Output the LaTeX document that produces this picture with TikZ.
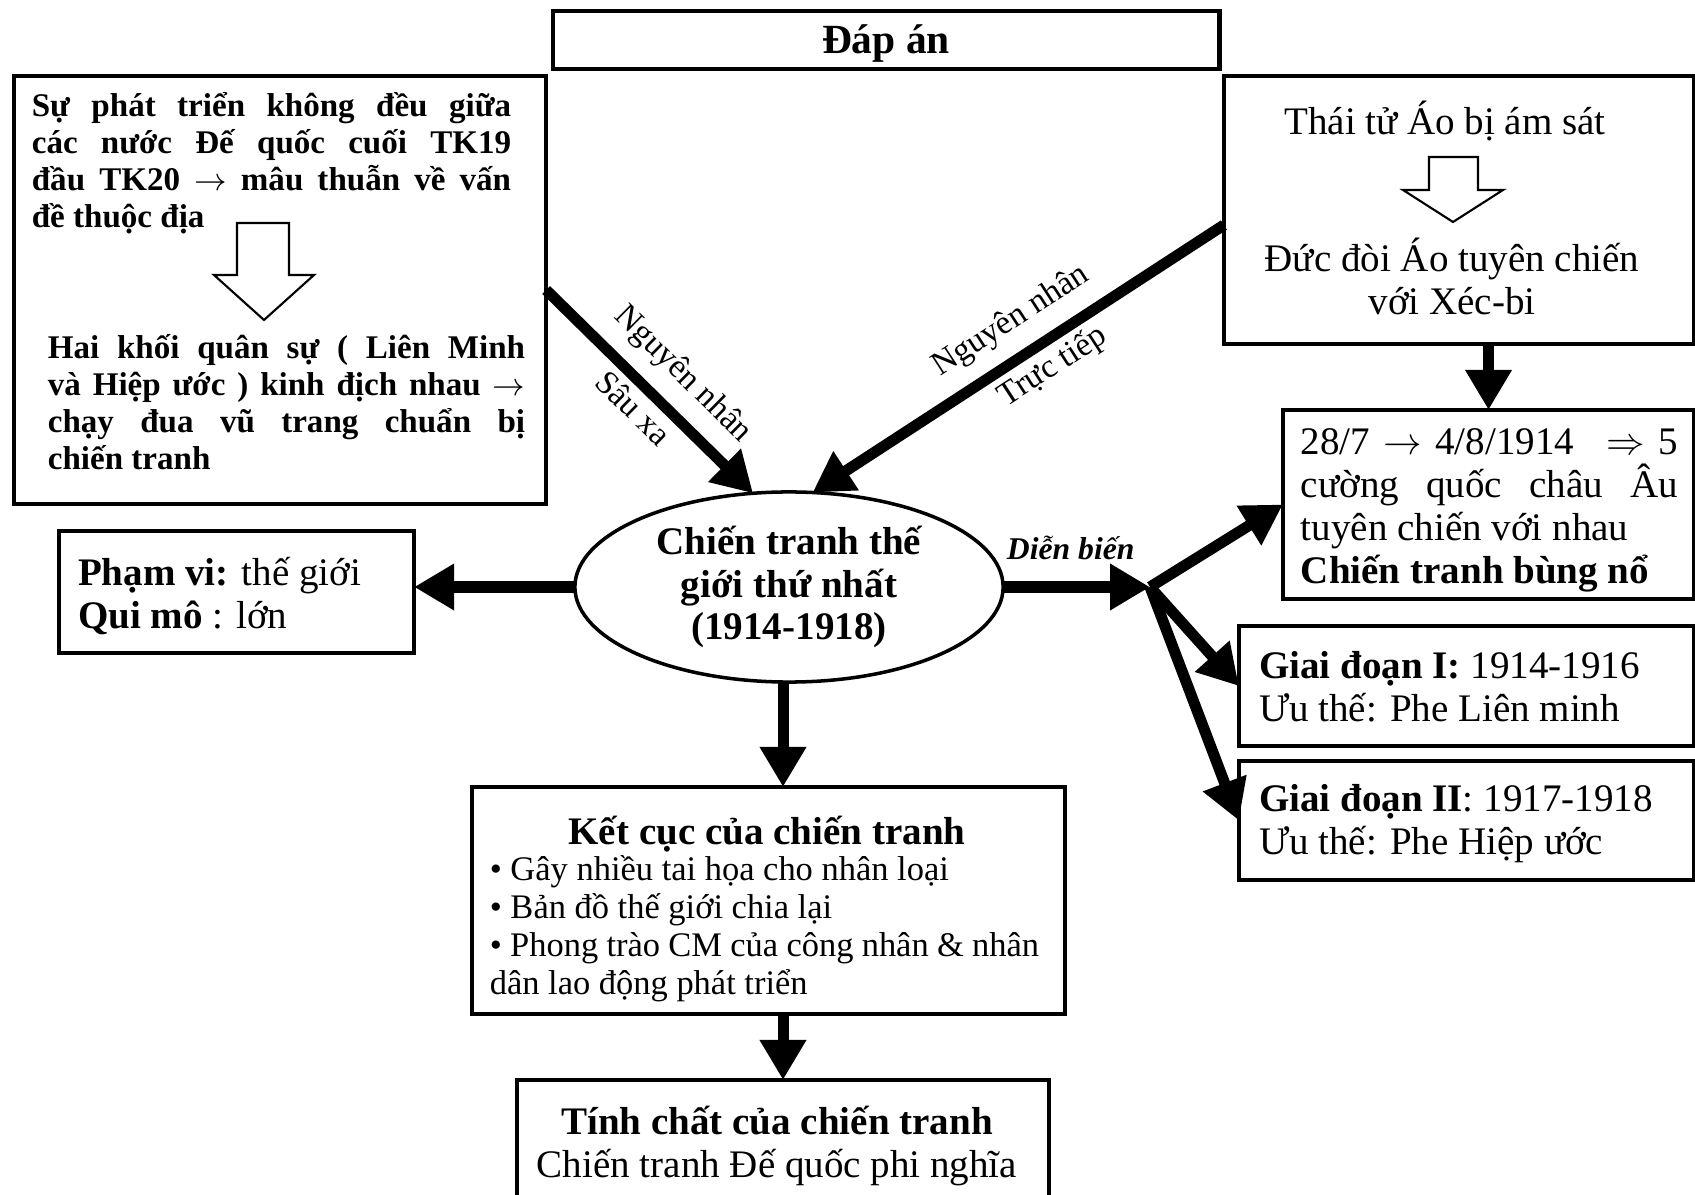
\documentclass[tikz,border=0pt]{standalone}
\usepackage{fontspec}
\setmainfont{Liberation Serif}
\usetikzlibrary{arrows.meta,shapes.geometric}
\tolerance=10000
\hbadness=10000
\hyphenpenalty=10000

\begin{document}
\begin{tikzpicture}[
            x = 0.01cm, y = -0.01cm,
            every node/.style={inner sep=0pt, outer sep=0pt},
            box/.style={draw, rectangle, line width=1.3pt},
            txt/.style={align=justify, font=\fontsize{9.4}{10.55}\selectfont\bfseries},
            big/.style={font=\fontsize{11.1}{12.2}\selectfont},
            small/.style={font=\fontsize{9.8}{10.8}\selectfont},
            lbl/.style={font=\fontsize{9.5}{11}\selectfont},
            link/.style={line width=0.11cm, -{Triangle[length=0.4cm, width=0.44cm]}},
            hollow/.style={draw, line width=0.6pt, fill=white},
            ]
        \useasboundingbox (0,0) rectangle (1695,1195);

        % title
        \node[box, minimum width=6.66cm, minimum height=0.58cm] (answer) at (886,40) {};
        \node[font=\fontsize{11.8}{13}\selectfont\bfseries] (answertxt) at (886,44) {Đáp án};

        % causes
        \node[box, minimum width=5.32cm, minimum height=4.28cm] (deep) at (280,290) {};
        \node[txt, text width=4.79cm] (deeptop) at (271.5,163) {Sự phát triển không đều giữa\linebreak các nước Đế quốc cuối TK19\linebreak đầu TK20 $\rightarrow$ mâu thuẫn về vấn\linebreak đề thuộc địa};
        \draw[hollow] (237,223) -- (289,223) -- (289,275) -- (314,275) -- (264,320) -- (214,275) -- (237,275) -- cycle;
        \node[txt, text width=4.77cm] (deepbot) at (286.5,402) {Hai khối quân sự ( Liên Minh\linebreak và Hiệp ước ) kinh địch nhau $\rightarrow$\linebreak chạy đua vũ trang chuẩn bị\linebreak chiến tranh};

        \node[box, minimum width=4.70cm, minimum height=2.68cm] (direct) at (1459,210) {};
        \node[big] (murder) at (1445,121) {Thái tử Áo bị ám sát};
        \draw[hollow] (1429,157) -- (1478,157) -- (1478,190) -- (1503,190) -- (1453,222) -- (1403,190) -- (1429,190) -- cycle;
        \node[big, align=center] (ultimatum) at (1452,276) {Đức đòi Áo tuyên chiến\\với Xéc-bi};

        % center
        \node[ellipse, draw, line width=1pt, minimum width=4.28cm, minimum height=1.90cm, align=center, font=\fontsize{11.1}{12.2}\selectfont\bfseries] (war) at (789,587) {Chiến tranh thế\\giới thứ nhất\\(1914-1918)};

        % course
        \node[box, minimum width=4.11cm, minimum height=1.89cm] (outbreak) at (1488.5,504.5) {};
        \node[big, align=justify, text width=3.77cm] (outbreaktxt) at (1489.5,510) {28/7 $\rightarrow$ 4/8/1914 \enspace $\Rightarrow$ 5\linebreak cường quốc châu Âu\linebreak tuyên chiến với nhau\\\textbf{Chiến tranh bùng nổ}};
        \node[box, minimum width=4.55cm, minimum height=1.20cm] (stage1) at (1466.5,686) {};
        \node[big, anchor=west, align=left] (stage1txt) at (1259,687) {\textbf{Giai đoạn I:} 1914-1916\\Ưu thế: Phe Liên minh};
        \node[box, minimum width=4.55cm, minimum height=1.19cm] (stage2) at (1466.5,820.5) {};
        \node[big, anchor=west, align=left] (stage2txt) at (1259,824) {\textbf{Giai đoạn II}: 1917-1918\\Ưu thế: Phe Hiệp ước};
        \coordinate (fork) at (1150,587);

        % scope, result, nature
        \node[box, minimum width=3.55cm, minimum height=1.22cm] (scope) at (236.5,592) {};
        \node[big, anchor=west, align=left] (scopetxt) at (78,596) {\textbf{Phạm vi:} thế giới\\\textbf{Qui mô} : lớn};

        \node[box, minimum width=5.93cm, minimum height=2.27cm] (result) at (768.5,900.5) {};
        \node[font=\fontsize{11.1}{12.2}\selectfont\bfseries] (resulthead) at (767,834) {Kết cục của chiến tranh};
        \node[small, align=justify, text width=5.49cm] (resulttxt) at (764.5,929) {• Gây nhiều tai họa cho nhân loại\\• Bản đồ thế giới chia lại\\• Phong trào CM của công nhân \& nhân\linebreak dân lao động phát triển};

        \node[box, minimum width=5.32cm, minimum height=1.40cm] (nature) at (783,1150) {};
        \node[big, align=center] (naturetxt) at (777,1146) {\textbf{Tính chất của chiến tranh}\\Chiến tranh Đế quốc phi nghĩa};

        % connectors
        \coordinate (down) at ([xshift=-0.06cm]war.south);
        \draw[link] (deep.east) -- node[lbl, sloped, above=0.2cm, pos=0.54] {Nguyên nhân} node[lbl, sloped, below=0.11cm, pos=0.5] {Sâu xa} (war.111);
        \draw[link] ([yshift=-0.15cm]direct.west) -- node[lbl, sloped, above=0.2cm, pos=0.47] {Nguyên nhân} node[lbl, sloped, below=0.1cm, pos=0.45] {Trực tiếp} (war.76);
        \draw[link] (direct.south -| outbreak.north) -- (outbreak.north);
        \draw[link] (war.east) -- node[above=0.27cm, pos=0.46, font=\fontsize{9}{10}\selectfont\bfseries\itshape] {Diễn biến} (fork);
        \draw[link] (fork) -- (outbreak.west);
        \draw[link] (fork) -- (stage1.west);
        \draw[link] (fork) -- (stage2.west);
        \draw[link] (war.west) -- (war.west -| scope.east);
        \draw[link] (down) -- (down |- result.north);
        \draw[link] (down |- result.south) -- (down |- nature.north);
    \end{tikzpicture}
\end{document}
